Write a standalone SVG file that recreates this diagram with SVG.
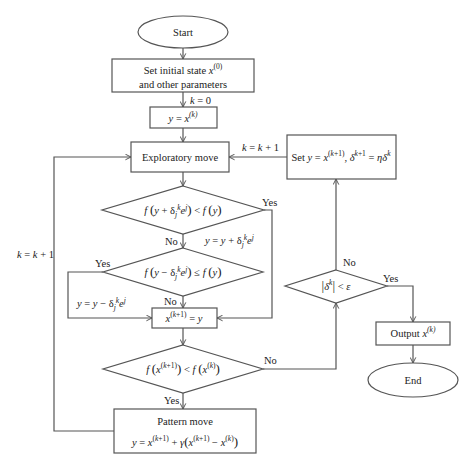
<svg xmlns="http://www.w3.org/2000/svg" width="474" height="470" viewBox="0 0 474 470">
<defs>
<marker id="ah" viewBox="0 0 10 10" refX="9" refY="5" markerWidth="7" markerHeight="7" orient="auto" markerUnits="userSpaceOnUse">
<path d="M1,1 L9,5 L1,9" fill="none" stroke="#555" stroke-width="1.4"/>
</marker>
<style>
.s{fill:#fff;stroke:#555;stroke-width:1.2}
.c{fill:none;stroke:#555;stroke-width:1.2;marker-end:url(#ah)}
.l{fill:none;stroke:#555;stroke-width:1.2}
text{font-family:"Liberation Serif","DejaVu Serif",serif;font-size:10.5px;fill:#222}
.m{text-anchor:middle}
.i{font-style:italic}
.sup{font-size:7.5px}
.p{font-size:13px}
</style>
</defs>
<rect width="474" height="470" fill="#fff"/>
<g id="connectors">
<path class="c" d="M183,48 V59"/>
<path class="c" d="M183,92 V107"/>
<path class="c" d="M183,128 V142"/>
<path class="c" d="M183,172 V186"/>
<path class="c" d="M183,234 V248"/>
<path class="c" d="M264,210 H272 V318 H217"/>
<path class="c" d="M103,272 H68 V318 H152"/>
<path class="c" d="M183,296 V308"/>
<path class="c" d="M183,328 V345"/>
<path class="c" d="M183,393 V409"/>
<path class="c" d="M114,431 H54 V157 H131"/>
<path class="c" d="M263,369 H336 V303"/>
<path class="c" d="M336,270 V179"/>
<path class="c" d="M287,157 H229"/>
<path class="c" d="M387,286 H413 V322"/>
<path class="c" d="M413,345 V363"/>
</g>
<g id="start"><ellipse class="s" cx="183" cy="32" rx="45" ry="16"/><text class="m" x="183" y="36">Start</text></g>
<g id="init"><rect class="s" x="112" y="59" width="142" height="33"/>
<text class="m" x="183" y="74">Set initial state <tspan class="i">x</tspan><tspan class="sup" dy="-5">(0)</tspan></text>
<text class="m" x="183" y="88">and other parameters</text></g>
<g id="lbl-k0"><text x="190" y="104"><tspan class="i">k</tspan> = 0</text></g>
<g id="yx"><rect class="s" x="150" y="107" width="67" height="21"/>
<text class="m" x="183" y="122"><tspan class="i">y</tspan> = <tspan class="i">x</tspan><tspan class="sup i" dy="-5">(k)</tspan></text></g>
<g id="explore"><rect class="s" x="131" y="142" width="98" height="30"/><text class="m" x="180" y="161">Exploratory move</text></g>
<g id="d1"><polygon class="s" points="183,186 264,210 183,234 102,210"/>
<text class="m" x="183" y="214"><tspan class="i">f</tspan> <tspan class="p">(</tspan><tspan class="i">y</tspan> + δ<tspan class="sup i" dy="3">j</tspan><tspan class="sup i" dy="-7">k</tspan><tspan class="i" dy="4">e</tspan><tspan class="sup i" dy="-4">j</tspan><tspan class="p" dy="4">)</tspan> &lt; <tspan class="i">f</tspan> <tspan class="p">(</tspan><tspan class="i">y</tspan><tspan class="p">)</tspan></text></g>
<g id="d2"><polygon class="s" points="183,248 263,272 183,296 103,272"/>
<text class="m" x="183" y="276"><tspan class="i">f</tspan> <tspan class="p">(</tspan><tspan class="i">y</tspan> − δ<tspan class="sup i" dy="3">j</tspan><tspan class="sup i" dy="-7">k</tspan><tspan class="i" dy="4">e</tspan><tspan class="sup i" dy="-4">j</tspan><tspan class="p" dy="4">)</tspan> ≤ <tspan class="i">f</tspan> <tspan class="p">(</tspan><tspan class="i">y</tspan><tspan class="p">)</tspan></text></g>
<g id="xk1"><rect class="s" x="152" y="308" width="65" height="20"/>
<text class="m" x="184" y="322"><tspan class="i">x</tspan><tspan class="sup" dy="-5">(<tspan class="i">k</tspan>+1)</tspan><tspan dy="5"> = </tspan><tspan class="i">y</tspan></text></g>
<g id="d3"><polygon class="s" points="183,345 263,369 183,393 103,369"/>
<text class="m" x="183" y="373"><tspan class="i">f</tspan> <tspan class="p">(</tspan><tspan class="i">x</tspan><tspan class="sup" dy="-5">(<tspan class="i">k</tspan>+1)</tspan><tspan class="p" dy="5">)</tspan> &lt; <tspan class="i">f</tspan> <tspan class="p">(</tspan><tspan class="i">x</tspan><tspan class="sup" dy="-5">(<tspan class="i">k</tspan>)</tspan><tspan class="p" dy="5">)</tspan></text></g>
<g id="pattern"><rect class="s" x="114" y="409" width="142" height="44"/>
<text class="m" x="185" y="425">Pattern move</text>
<text class="m" x="185" y="446"><tspan class="i">y</tspan> = <tspan class="i">x</tspan><tspan class="sup" dy="-5">(<tspan class="i">k</tspan>+1)</tspan><tspan dy="5"> + </tspan><tspan class="i">γ</tspan><tspan class="p">(</tspan><tspan class="i">x</tspan><tspan class="sup" dy="-5">(<tspan class="i">k</tspan>+1)</tspan><tspan dy="5"> − </tspan><tspan class="i">x</tspan><tspan class="sup" dy="-5">(<tspan class="i">k</tspan>)</tspan><tspan class="p" dy="5">)</tspan></text></g>
<g id="setbox"><rect class="s" x="287" y="135" width="109" height="44"/>
<text class="m" x="341" y="161">Set <tspan class="i">y</tspan> = <tspan class="i">x</tspan><tspan class="sup" dy="-5">(<tspan class="i">k</tspan>+1)</tspan><tspan dy="5">, </tspan><tspan class="i">δ</tspan><tspan class="sup" dy="-5"><tspan class="i">k</tspan>+1</tspan><tspan dy="5"> = </tspan><tspan class="i">ηδ</tspan><tspan class="sup i" dy="-5">k</tspan></text></g>
<g id="d4"><polygon class="s" points="336,270 387,286 336,303 285,286"/>
<text class="m" x="336" y="290"><tspan class="p">|</tspan><tspan class="i">δ</tspan><tspan class="sup i" dy="-5">k</tspan><tspan class="p" dy="5">|</tspan> &lt; <tspan class="i">ε</tspan></text></g>
<g id="output"><rect class="s" x="376" y="322" width="74" height="23"/>
<text class="m" x="413" y="337">Output <tspan class="i">x</tspan><tspan class="sup i" dy="-5">(k)</tspan></text></g>
<g id="end"><ellipse class="s" cx="413" cy="380" rx="45" ry="17"/><text class="m" x="413" y="384">End</text></g>
<g id="labels">
<text x="242" y="151"><tspan class="i">k</tspan> = <tspan class="i">k</tspan> + 1</text>
<text x="17" y="258"><tspan class="i">k</tspan> = <tspan class="i">k</tspan> + 1</text>
<text x="262" y="206">Yes</text>
<text x="165" y="245">No</text>
<text x="205" y="244"><tspan class="i">y</tspan> = <tspan class="i">y</tspan> + δ<tspan class="sup i" dy="3">j</tspan><tspan class="sup i" dy="-7">k</tspan><tspan class="i" dy="4">e</tspan><tspan class="sup i" dy="-4">j</tspan></text>
<text x="95" y="267">Yes</text>
<text x="164" y="305">No</text>
<text x="77" y="307"><tspan class="i">y</tspan> = <tspan class="i">y</tspan> − δ<tspan class="sup i" dy="3">j</tspan><tspan class="sup i" dy="-7">k</tspan><tspan class="i" dy="4">e</tspan><tspan class="sup i" dy="-4">j</tspan></text>
<text x="264" y="364">No</text>
<text x="164" y="404">Yes</text>
<text x="343" y="266">No</text>
<text x="383" y="282">Yes</text>
</g>
</svg>
